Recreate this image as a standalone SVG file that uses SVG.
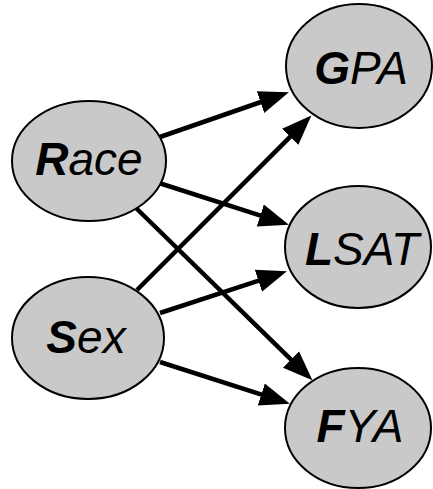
<svg xmlns="http://www.w3.org/2000/svg" width="433" height="489" viewBox="0 0 433 489">
<style>
.node ellipse{fill:#c9c9c9;stroke:#000;stroke-width:2}
.node text{font-family:"Liberation Sans",Arial,sans-serif;font-style:italic;font-size:46px;text-anchor:middle;fill:#000}
.node tspan.b{font-weight:bold}
.edge{stroke:#000;stroke-width:4.5;fill:none;marker-end:url(#ah)}
</style>
<defs>
<marker id="ah" markerUnits="userSpaceOnUse" markerWidth="34" markerHeight="26" viewBox="-2 -13 34 26" refX="0" refY="0" orient="auto">
<path d="M-2,-11.5 L28,0 L-2,11.5 z" fill="#000"/>
</marker>
</defs>
<rect width="433" height="489" fill="#fff"/>
<g id="connectors">
<line class="edge" x1="160" y1="137" x2="262.4" y2="101.5"/>
<line class="edge" x1="137" y1="290" x2="291.6" y2="135.4"/>
<line class="edge" x1="159" y1="183" x2="262.2" y2="216.1"/>
<line class="edge" x1="136" y1="208" x2="292.4" y2="360.8"/>
<line class="edge" x1="160" y1="313" x2="260.3" y2="280.1"/>
<line class="edge" x1="160" y1="362" x2="263.2" y2="395.1"/>
</g>
<g id="race" class="node"><ellipse cx="89" cy="161" rx="77" ry="60"/><text x="89" y="175"><tspan class="b">R</tspan>ace</text></g>
<g id="sex" class="node"><ellipse cx="88" cy="338" rx="76" ry="61"/><text x="86" y="353"><tspan class="b">S</tspan>ex</text></g>
<g id="gpa" class="node"><ellipse cx="359" cy="66" rx="73" ry="62"/><text x="361" y="84"><tspan class="b">G</tspan>PA</text></g>
<g id="lsat" class="node"><ellipse cx="358" cy="247" rx="73" ry="61"/><text x="362" y="265"><tspan class="b">L</tspan>SAT</text></g>
<g id="fya" class="node"><ellipse cx="358" cy="428" rx="73" ry="60"/><text x="360" y="442"><tspan class="b">F</tspan>YA</text></g>
</svg>
